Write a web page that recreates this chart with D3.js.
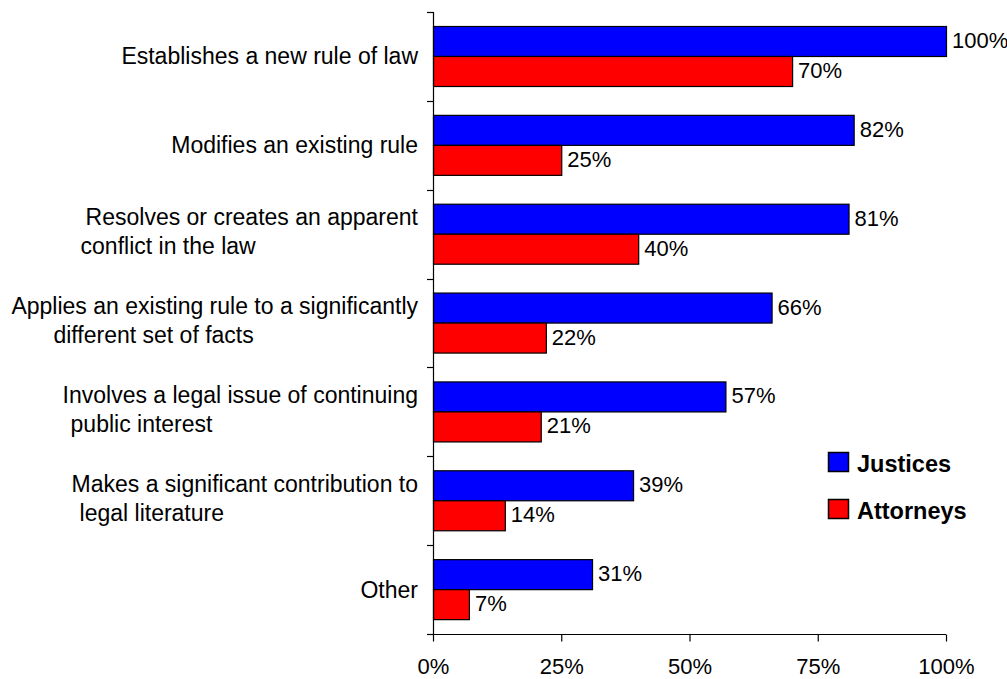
<!DOCTYPE html>
<html>
<head>
<meta charset="utf-8">
<script src="https://cdn.jsdelivr.net/npm/d3@7"></script>
<style>
  html, body { margin: 0; padding: 0; background: #fff; }
  svg { display: block; font-family: "Liberation Sans", Arial, sans-serif; }
</style>
</head>
<body>
<svg id="chart" width="1007" height="679"></svg>
<script>
// ---- data ----
const categories = [
  "Establishes a new rule of law",
  "Modifies an existing rule",
  "Resolves or creates an apparent conflict in the law",
  "Applies an existing rule to a significantly different set of facts",
  "Involves a legal issue of continuing public interest",
  "Makes a significant contribution to legal literature",
  "Other"
];
const categoryLines = [
  ["Establishes a new rule of law"],
  ["Modifies an existing rule"],
  ["Resolves or creates an apparent", "conflict in the law"],
  ["Applies an existing rule to a significantly", "different set of facts"],
  ["Involves a legal issue of continuing", "public interest"],
  ["Makes a significant contribution to", "legal literature"],
  ["Other"]
];
const seriesNames = ["Justices", "Attorneys"];
const justices = [100, 82, 81, 66, 57, 39, 31];
const attorneys = [70, 25, 40, 22, 21, 14, 7];
const xTicks = [0, 25, 50, 75, 100];

// ---- drawing ----
const colors = { Justices: "#0000FF", Attorneys: "#FF0000" };
const svg = d3.select("#chart");

const x = d3.scaleLinear().domain([0, 100]).range([433, 946]);
const y = d3.scaleBand().domain(categories).range([12, 634]).padding(0);
const inner = d3.scaleBand().domain(seriesNames).range([0, y.bandwidth()])
  .paddingInner(0).paddingOuter(0.48);

const values = { Justices: justices, Attorneys: attorneys };

// bars
const groups = svg.append("g").selectAll("g")
  .data(categories).join("g")
  .attr("transform", d => `translate(0,${y(d)})`);

seriesNames.forEach(s => {
  groups.append("rect")
    .attr("x", x(0) + 0.5)
    .attr("y", (d) => Math.round(inner(s)) + 0.5)
    .attr("width", (d, i) => x(values[s][i]) - x(0))
    .attr("height", Math.round(inner.bandwidth()))
    .attr("fill", colors[s])
    .attr("stroke", "#000")
    .attr("stroke-width", 1.2);
  groups.append("text")
    .attr("x", (d, i) => x(values[s][i]) + 6)
    .attr("y", Math.round(inner(s)) + inner.bandwidth() / 2 + 7)
    .attr("font-size", 22)
    .attr("fill", "#000")
    .text((d, i) => values[s][i] + "%");
});

// y axis line and ticks at band boundaries
const axisG = svg.append("g").attr("stroke", "#000").attr("stroke-width", 1.2);
axisG.append("line")
  .attr("x1", x(0) + 0.5).attr("x2", x(0) + 0.5)
  .attr("y1", y.range()[0]).attr("y2", y.range()[1] + 0.5);
const boundaries = categories.map(c => y(c)).concat([y.range()[1]]);
axisG.selectAll("line.yt").data(boundaries).join("line")
  .attr("class", "yt")
  .attr("x1", x(0) - 6).attr("x2", x(0) + 0.5)
  .attr("y1", d => Math.round(d) + 0.5).attr("y2", d => Math.round(d) + 0.5);

// x axis
const xAxis = d3.axisBottom(x)
  .tickValues(xTicks)
  .tickFormat(d => d + "%")
  .tickSize(7)
  .tickPadding(17);
const xg = svg.append("g")
  .attr("transform", `translate(0,${y.range()[1] + 0.5})`)
  .call(xAxis);
xg.select(".domain").attr("stroke", "#000").attr("stroke-width", 1.2)
  .attr("d", `M${x(0)},0H${x(100)}`);
xg.selectAll(".tick line").attr("stroke", "#000").attr("stroke-width", 1.2);
xg.selectAll(".tick text")
  .attr("font-size", 22)
  .attr("font-family", '"Liberation Sans", Arial, sans-serif')
  .attr("fill", "#000");

// category labels
const indent = { 2: -5, 3: 42, 4: 8, 5: 8 };
const labelG = svg.append("g").attr("font-size", 23).attr("fill", "#000");
categoryLines.forEach((lines, i) => {
  const cy = y(categories[i]) + y.bandwidth() / 2;
  if (lines.length === 1) {
    labelG.append("text")
      .attr("x", 418).attr("y", cy + 8)
      .attr("text-anchor", "end")
      .text(lines[0]);
  } else {
    const t1 = labelG.append("text")
      .attr("x", 418).attr("y", cy - 9)
      .attr("text-anchor", "end")
      .text(lines[0]);
    const w = t1.node().getComputedTextLength();
    labelG.append("text")
      .attr("x", 418 - w + (indent[i] || 0)).attr("y", cy + 20)
      .text(lines[1]);
  }
});

// legend
const legend = svg.append("g");
seriesNames.forEach((s, i) => {
  const ly = 452 + i * 47;
  legend.append("rect")
    .attr("x", 828.5).attr("y", ly + 0.5)
    .attr("width", 20).attr("height", 19)
    .attr("fill", colors[s]).attr("stroke", "#000").attr("stroke-width", 1.5);
  legend.append("text")
    .attr("x", 857).attr("y", ly + 20)
    .attr("font-size", 23.5).attr("font-weight", "bold")
    .text(s);
});
</script>
</body>
</html>
